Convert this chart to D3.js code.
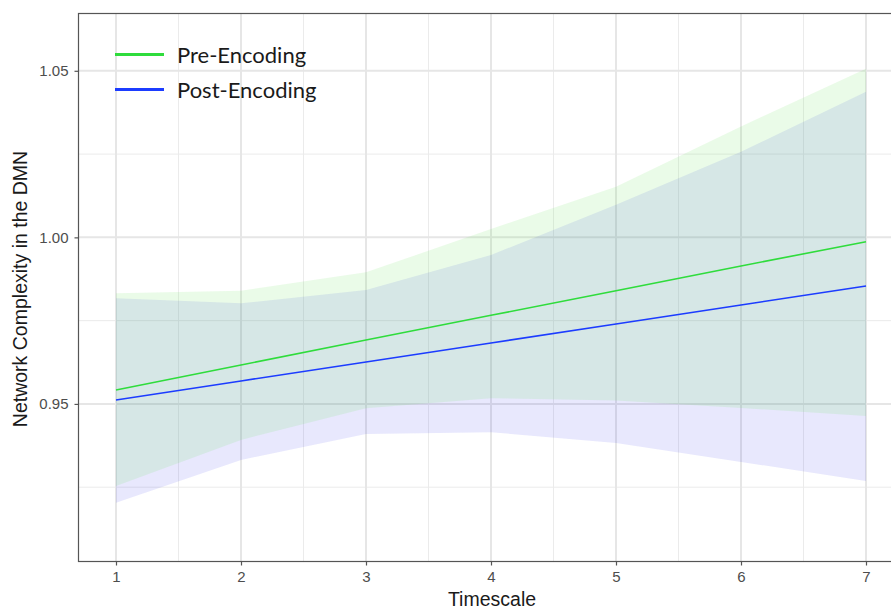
<!DOCTYPE html>
<html>
<head>
<meta charset="utf-8">
<script src="https://cdn.jsdelivr.net/npm/d3@7"></script>
<style>
body { margin: 0; background: #fff; }
</style>
</head>
<body>
<div id="chart"></div>
<script>
// data
var timescale = [1, 2, 3, 4, 5, 6, 7]
var preFit = [0.9542, 0.9617, 0.9692, 0.9766, 0.9840, 0.9914, 0.9987]
var preUpper = [0.9832, 0.9840, 0.9895, 1.0025, 1.0152, 1.0333, 1.0506]
var preLower = [0.9254, 0.9392, 0.9487, 0.9517, 0.9510, 0.9488, 0.9464]
var postFit = [0.9512, 0.9569, 0.9626, 0.9683, 0.9740, 0.9797, 0.9854]
var postUpper = [0.9817, 0.9802, 0.9842, 0.9947, 1.0098, 1.0257, 1.0437]
var postLower = [0.9203, 0.9332, 0.9410, 0.9415, 0.9383, 0.9326, 0.9269]
var yTicks = [0.95, 1.00, 1.05]
var yMinor = [0.925, 0.975, 1.025]
var xMinor = [1.5, 2.5, 3.5, 4.5, 5.5, 6.5]
var seriesNames = ["Pre-Encoding", "Post-Encoding"]

var width = 891
var height = 610
// panel edges (window.top is reserved, so use other names)
var pL = 78.5, pR = 903.5, pT = 13.5, pB = 561.5

var svg = d3.select("#chart").append("svg")
    .attr("width", width)
    .attr("height", height)

var x = d3.scaleLinear().domain([0.7, 7.3]).range([pL, pR])
var y = d3.scaleLinear().domain([0.9027, 1.0672]).range([pB, pT])

var lineColor = { "Pre-Encoding": "#2fdc3c", "Post-Encoding": "#1c3cff" }

// grid
var grid = svg.append("g")
grid.selectAll("line.minx").data(xMinor).join("line")
    .attr("class", "minx")
    .attr("x1", d => x(d)).attr("x2", d => x(d))
    .attr("y1", pT).attr("y2", pB)
    .attr("stroke", "#ebebeb").attr("stroke-width", 1)
grid.selectAll("line.miny").data(yMinor).join("line")
    .attr("class", "miny")
    .attr("x1", pL).attr("x2", pR)
    .attr("y1", d => y(d)).attr("y2", d => y(d))
    .attr("stroke", "#ebebeb").attr("stroke-width", 1)
grid.selectAll("line.majx").data(timescale).join("line")
    .attr("class", "majx")
    .attr("x1", d => x(d)).attr("x2", d => x(d))
    .attr("y1", pT).attr("y2", pB)
    .attr("stroke", "#e6e6e6").attr("stroke-width", 2)
grid.selectAll("line.majy").data(yTicks).join("line")
    .attr("class", "majy")
    .attr("x1", pL).attr("x2", pR)
    .attr("y1", d => y(d)).attr("y2", d => y(d))
    .attr("stroke", "#e6e6e6").attr("stroke-width", 2)

// ribbons
var area = d3.area()
    .x(d => x(d.t))
    .y0(d => y(d.lo))
    .y1(d => y(d.hi))

var postBand = timescale.map((t, i) => ({ t: t, lo: postLower[i], hi: postUpper[i] }))
var preBand = timescale.map((t, i) => ({ t: t, lo: preLower[i], hi: preUpper[i] }))

svg.append("path")
    .attr("d", area(postBand))
    .attr("fill", "rgb(25,25,235)")
    .attr("fill-opacity", 0.1)
svg.append("path")
    .attr("d", area(preBand))
    .attr("fill", "rgb(115,228,102)")
    .attr("fill-opacity", 0.15)

// fitted lines
var line = d3.line()
    .x((d, i) => x(timescale[i]))
    .y(d => y(d))

svg.append("path")
    .attr("d", line(preFit))
    .attr("fill", "none")
    .attr("stroke", lineColor["Pre-Encoding"])
    .attr("stroke-width", 1.6)
svg.append("path")
    .attr("d", line(postFit))
    .attr("fill", "none")
    .attr("stroke", lineColor["Post-Encoding"])
    .attr("stroke-width", 1.6)

// panel border
svg.append("rect")
    .attr("x", pL).attr("y", pT)
    .attr("width", pR - pL).attr("height", pB - pT)
    .attr("fill", "none")
    .attr("stroke", "#555")
    .attr("stroke-width", 1.2)

// axes
var xAxis = svg.append("g")
    .attr("transform", "translate(0," + pB + ")")
    .call(d3.axisBottom(x).tickValues(timescale).tickSize(4).tickPadding(6).tickFormat(d3.format("d")))
var yAxis = svg.append("g")
    .attr("transform", "translate(" + pL + ",0)")
    .call(d3.axisLeft(y).tickValues(yTicks).tickSize(4).tickPadding(6).tickFormat(d3.format(".2f")))

xAxis.select(".domain").remove()
yAxis.select(".domain").remove()
xAxis.attr("font-size", 15).attr("font-family", "Liberation Sans, Arial, sans-serif")
yAxis.attr("font-size", 15).attr("font-family", "Liberation Sans, Arial, sans-serif")
svg.selectAll(".tick line").attr("stroke", "#555").attr("stroke-width", 1.2)
svg.selectAll(".tick text").attr("fill", "#4d4d4d")

svg.append("text")
    .attr("x", 492)
    .attr("y", 606)
    .attr("text-anchor", "middle")
    .style("font-family", "Liberation Sans, Arial, sans-serif")
    .style("font-size", "19.5px")
    .attr("fill", "#1a1a1a")
    .text("Timescale")

svg.append("text")
    .attr("transform", "translate(27," + 289 + ") rotate(-90)")
    .attr("text-anchor", "middle")
    .style("font-family", "Liberation Sans, Arial, sans-serif")
    .style("font-size", "19.5px")
    .attr("fill", "#1a1a1a")
    .text("Network Complexity in the DMN")

// legend
var legend = svg.append("g")
legend.selectAll("line").data(seriesNames).join("line")
    .attr("x1", 115).attr("x2", 164)
    .attr("y1", (d, i) => 54.5 + i * 35)
    .attr("y2", (d, i) => 54.5 + i * 35)
    .attr("stroke", d => lineColor[d])
    .attr("stroke-width", 3.2)
legend.selectAll("text").data(seriesNames).join("text")
    .attr("x", 177)
    .attr("y", (d, i) => 62.5 + i * 35)
    .style("font-family", "Lato, Open Sans, sans-serif")
    .style("font-size", "22px")
    .attr("fill", "#1a1a1a")
    .text(d => d)
</script>
</body>
</html>
